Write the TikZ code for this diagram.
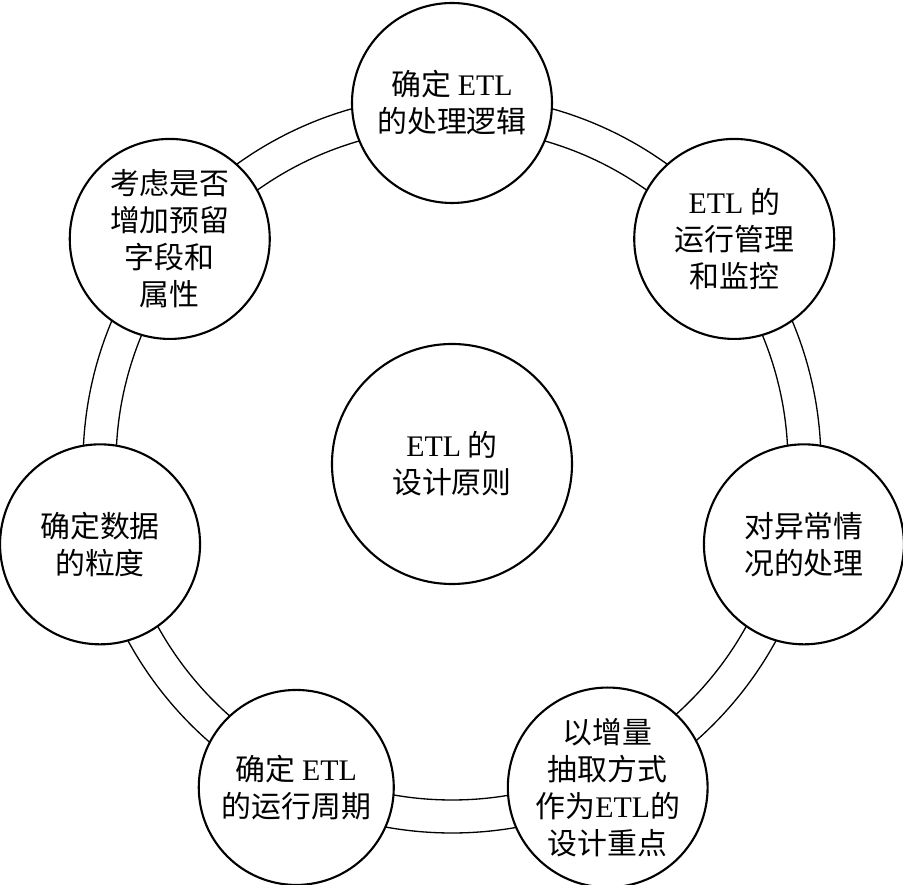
\documentclass[tikz,border=0pt]{standalone}
\usepackage{fontspec}
\setmainfont{Liberation Serif}
\newfontfamily\cjk{Noto Sans CJK SC}
\newcommand{\etl}{{\rmfamily ETL}}
\usepackage{tikz}
\usetikzlibrary{backgrounds}

\begin{document}
\begin{tikzpicture}[
item/.style={draw,circle,line width=1.2pt,fill=white,minimum size=40mm,inner sep=0pt,align=center,font=\cjk\fontsize{17}{21}\selectfont},
low/.style={item,minimum size=39mm},
core/.style={item,minimum size=48mm},
ring/.style={line width=0.75pt}
]
\useasboundingbox (-9.04,-8.42) rectangle (9.02,9.28);
\node[core] (core) at (0,0) {\etl\ 的\\设计原则};
\node[item] (logic) at (90:7.22) {确定 \etl\\的处理逻辑};
\node[item] (monitor) at (38.57:7.22) {\etl\ 的\\运行管理\\和监控};
\node[item] (error) at (-12.86:7.22) {对异常情\\况的处理};
\node[low] (incr) at (-64.29:7.18) {以增量\\抽取方式\\作为\etl 的\\设计重点};
\node[low] (cycle) at (-115.71:7.18) {确定 \etl\\的运行周期};
\node[item] (grain) at (-167.14:7.22) {确定数据\\的粒度};
\node[item] (reserve) at (141.43:7.22) {考虑是否\\增加预留\\字段和\\属性};

\begin{scope}[on background layer]
\draw[ring] (core.center) circle (6.72);
\draw[ring] (core.center) circle (7.38);
\end{scope}
\end{tikzpicture}
\end{document}
